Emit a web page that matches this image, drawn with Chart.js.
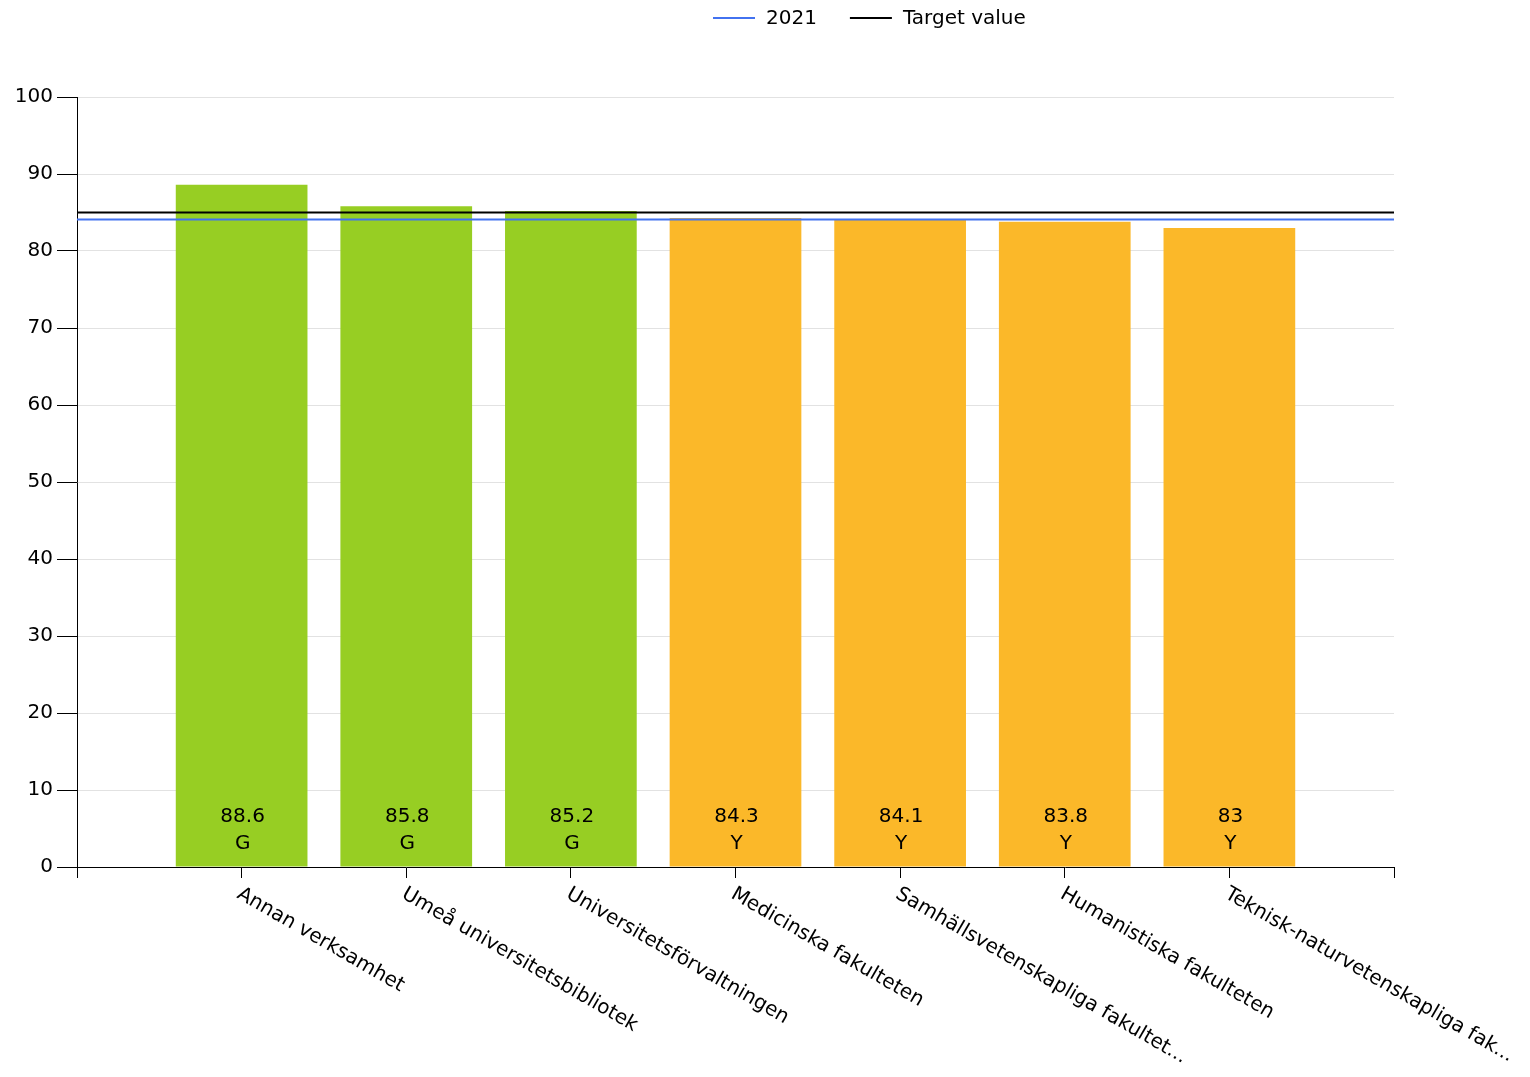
<!DOCTYPE html>
<html>
<head>
<meta charset="utf-8">
<title>Index per enhet</title>
<script src="https://cdn.jsdelivr.net/npm/chart.js@4.4.1/dist/chart.umd.min.js"></script>
<style>
  html, body { margin: 0; padding: 0; background: #fff; }
  canvas { display: block; }
</style>
</head>
<body>
<canvas id="chart" width="1530" height="1077"></canvas>
<script>
const categories = [
  "Annan verksamhet",
  "Umeå universitetsbibliotek",
  "Universitetsförvaltningen",
  "Medicinska fakulteten",
  "Samhällsvetenskapliga fakultet...",
  "Humanistiska fakulteten",
  "Teknisk-naturvetenskapliga fak...",
];
const values = [88.6, 85.8, 85.2, 84.3, 84.1, 83.8, 83];
const status = ["G", "G", "G", "Y", "Y", "Y", "Y"];
const value2021 = 84.1;
const targetValue = 85;

const FONT = "DejaVu Sans, Verdana, sans-serif";
const statusColor = { G: "#97ce23", Y: "#fbb829" };

// empty slot at each end so the bars sit between the axis ends
const labels = ["", ...categories, ""];
const barData = [null, ...values, null];
const flat = (v) => labels.map(() => v);

const legendItems = [
  { text: "2021", color: "#4272f0" },
  { text: "Target value", color: "#000000" },
];

const extras = {
  id: "extras",
  afterDatasetsDraw(chart) {
    const ctx = chart.ctx;
    const meta = chart.getDatasetMeta(2);
    ctx.save();
    ctx.fillStyle = "#000";
    ctx.font = "20px " + FONT;
    ctx.textAlign = "center";
    ctx.textBaseline = "middle";
    meta.data.forEach((bar, i) => {
      const v = barData[i];
      if (v === null) return;
      ctx.fillText(String(v), bar.x + 1, bar.base - 50);
      ctx.fillText(status[i - 1], bar.x + 1, bar.base - 23);
    });
    ctx.restore();
  },
  afterDraw(chart) {
    const ctx = chart.ctx;
    const x = chart.scales.x;
    ctx.save();
    ctx.fillStyle = "#000";
    ctx.font = "20px " + FONT;

    // rotated category labels
    ctx.textAlign = "left";
    ctx.textBaseline = "top";
    categories.forEach((c, i) => {
      const px = x.getPixelForValue(i + 1);
      ctx.save();
      ctx.translate(px + 2, x.top + 17);
      ctx.rotate(Math.PI / 6);
      ctx.fillText(c, 0, 0);
      ctx.restore();
    });

    // legend
    ctx.textBaseline = "middle";
    let lx = 713;
    const ly = 18;
    legendItems.forEach((it) => {
      ctx.strokeStyle = it.color;
      ctx.lineWidth = 2;
      ctx.beginPath();
      ctx.moveTo(lx, ly);
      ctx.lineTo(lx + 42, ly);
      ctx.stroke();
      ctx.fillText(it.text, lx + 53, ly + 1);
      lx += 53 + ctx.measureText(it.text).width + 33;
    });
    ctx.restore();
  },
};

new Chart(document.getElementById("chart").getContext("2d"), {
  type: "bar",
  data: {
    labels: labels,
    datasets: [
      {
        type: "line",
        label: "2021",
        data: flat(value2021),
        borderColor: "#4272f0",
        borderWidth: 2,
        pointRadius: 0,
      },
      {
        type: "line",
        label: "Target value",
        data: flat(targetValue),
        borderColor: "#000000",
        borderWidth: 2,
        pointRadius: 0,
      },
      {
        label: "Index",
        data: barData,
        backgroundColor: labels.map((l, i) =>
          i > 0 && i <= status.length ? statusColor[status[i - 1]] : "#fff"
        ),
        barPercentage: 0.8,
        categoryPercentage: 1,
      },
    ],
  },
  options: {
    responsive: false,
    animation: false,
    layout: { padding: { top: 97, right: 136, left: 0, bottom: 0 } },
    plugins: {
      legend: { display: false },
      tooltip: { enabled: false },
    },
    scales: {
      x: {
        offset: false,
        grid: {
          offset: false,
          drawOnChartArea: false,
          drawTicks: true,
          tickLength: 11,
          tickColor: "#000",
        },
        border: { color: "#000", width: 1 },
        ticks: { display: false },
        afterFit: (s) => {
          s.height = 210;
        },
      },
      y: {
        min: 0,
        max: 100,
        ticks: {
          stepSize: 10,
          padding: 4,
          color: "#000",
          font: { family: FONT, size: 20 },
        },
        grid: { color: "#e2e2e2", tickLength: 20, tickColor: "#000" },
        border: { color: "#000", width: 1 },
        afterFit: (s) => {
          s.width = 77;
        },
      },
    },
  },
  plugins: [extras],
});
</script>
</body>
</html>
